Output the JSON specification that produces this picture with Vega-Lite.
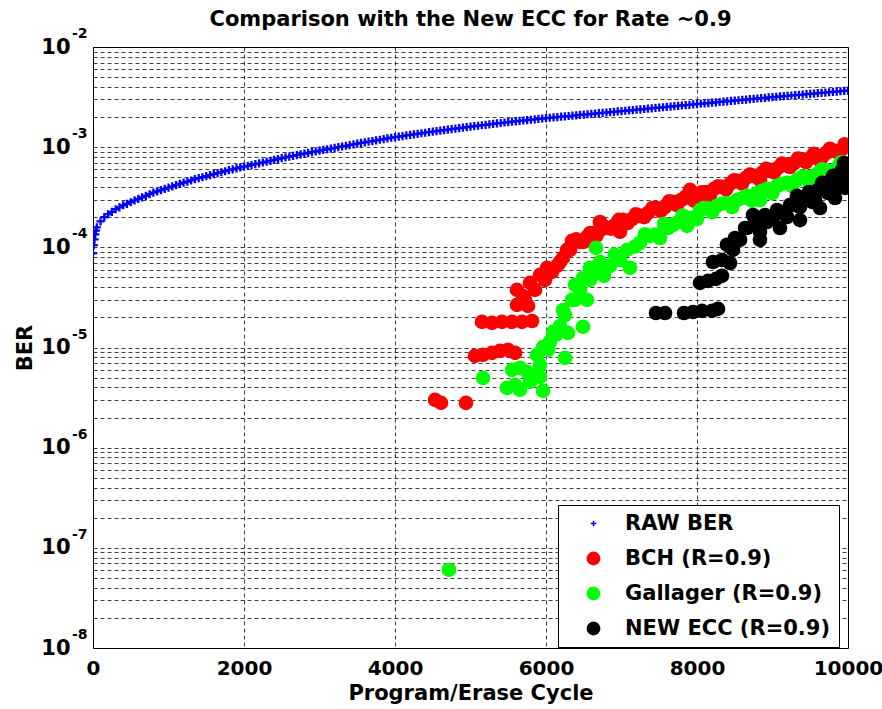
{
"$schema":"https://vega.github.io/schema/vega-lite/v6.json",
"width":755,"height":601,
"autosize":{"type":"none"},
"padding":{"left":93,"top":47,"right":34,"bottom":61},
"background":"white",
"title":{"text":"Comparison with the New ECC for Rate ~0.9","font":"DejaVu Sans","fontSize":21,"fontWeight":"bold","color":"black","anchor":"middle","baseline":"bottom","offset":4,"dy":28},
"config":{"view":{"stroke":"black","strokeWidth":1},"font":"DejaVu Sans"},
"datasets":{
"raw":[{"x":0,"y":8.7e-5},{"x":10,"y":1.05e-4},{"x":20,"y":1.2e-4},{"x":30,"y":1.35e-4},{"x":40,"y":1.47e-4},{"x":50,"y":1.585e-4},{"x":100,"y":1.82e-4},{"x":150,"y":2.0e-4},{"x":200,"y":2.14e-4},{"x":250,"y":2.26e-4},{"x":300,"y":2.40e-4},{"x":350,"y":2.51e-4},{"x":400,"y":2.63e-4},{"x":450,"y":2.72e-4},{"x":500,"y":2.82e-4},{"x":550,"y":2.94e-4},{"x":600,"y":3.05e-4},{"x":650,"y":3.16e-4},{"x":700,"y":3.27e-4},{"x":750,"y":3.39e-4},{"x":800,"y":3.51e-4},{"x":850,"y":3.61e-4},{"x":900,"y":3.72e-4},{"x":950,"y":3.83e-4},{"x":1000,"y":3.94e-4},{"x":1050,"y":4.06e-4},{"x":1100,"y":4.17e-4},{"x":1150,"y":4.30e-4},{"x":1200,"y":4.42e-4},{"x":1250,"y":4.53e-4},{"x":1300,"y":4.65e-4},{"x":1350,"y":4.79e-4},{"x":1400,"y":4.90e-4},{"x":1450,"y":5.01e-4},{"x":1500,"y":5.13e-4},{"x":1550,"y":5.25e-4},{"x":1600,"y":5.37e-4},{"x":1650,"y":5.50e-4},{"x":1700,"y":5.62e-4},{"x":1750,"y":5.75e-4},{"x":1800,"y":5.89e-4},{"x":1850,"y":6.01e-4},{"x":1900,"y":6.14e-4},{"x":1950,"y":6.27e-4},{"x":2000,"y":6.38e-4},{"x":2050,"y":6.52e-4},{"x":2100,"y":6.64e-4},{"x":2150,"y":6.76e-4},{"x":2200,"y":6.90e-4},{"x":2250,"y":7.03e-4},{"x":2300,"y":7.18e-4},{"x":2350,"y":7.31e-4},{"x":2400,"y":7.46e-4},{"x":2450,"y":7.60e-4},{"x":2500,"y":7.76e-4},{"x":2550,"y":7.91e-4},{"x":2600,"y":8.04e-4},{"x":2650,"y":8.18e-4},{"x":2700,"y":8.32e-4},{"x":2750,"y":8.47e-4},{"x":2800,"y":8.61e-4},{"x":2850,"y":8.77e-4},{"x":2900,"y":8.91e-4},{"x":2950,"y":9.08e-4},{"x":3000,"y":9.23e-4},{"x":3050,"y":9.38e-4},{"x":3100,"y":9.53e-4},{"x":3150,"y":9.68e-4},{"x":3200,"y":9.84e-4},{"x":3250,"y":1.0e-3},{"x":3300,"y":1.016e-3},{"x":3350,"y":1.033e-3},{"x":3400,"y":1.05e-3},{"x":3450,"y":1.067e-3},{"x":3500,"y":1.084e-3},{"x":3550,"y":1.102e-3},{"x":3600,"y":1.117e-3},{"x":3650,"y":1.135e-3},{"x":3700,"y":1.151e-3},{"x":3750,"y":1.169e-3},{"x":3800,"y":1.186e-3},{"x":3850,"y":1.205e-3},{"x":3900,"y":1.222e-3},{"x":3950,"y":1.242e-3},{"x":4000,"y":1.259e-3},{"x":4050,"y":1.276e-3},{"x":4100,"y":1.291e-3},{"x":4150,"y":1.309e-3},{"x":4200,"y":1.324e-3},{"x":4250,"y":1.343e-3},{"x":4300,"y":1.358e-3},{"x":4350,"y":1.377e-3},{"x":4400,"y":1.393e-3},{"x":4450,"y":1.413e-3},{"x":4500,"y":1.429e-3},{"x":4550,"y":1.445e-3},{"x":4600,"y":1.462e-3},{"x":4650,"y":1.479e-3},{"x":4700,"y":1.496e-3},{"x":4750,"y":1.514e-3},{"x":4800,"y":1.531e-3},{"x":4850,"y":1.549e-3},{"x":4900,"y":1.567e-3},{"x":4950,"y":1.585e-3},{"x":5000,"y":1.603e-3},{"x":5050,"y":1.622e-3},{"x":5100,"y":1.637e-3},{"x":5150,"y":1.656e-3},{"x":5200,"y":1.671e-3},{"x":5250,"y":1.69e-3},{"x":5300,"y":1.706e-3},{"x":5350,"y":1.726e-3},{"x":5400,"y":1.742e-3},{"x":5450,"y":1.762e-3},{"x":5500,"y":1.778e-3},{"x":5550,"y":1.795e-3},{"x":5600,"y":1.811e-3},{"x":5650,"y":1.828e-3},{"x":5700,"y":1.845e-3},{"x":5750,"y":1.862e-3},{"x":5800,"y":1.879e-3},{"x":5850,"y":1.897e-3},{"x":5900,"y":1.914e-3},{"x":5950,"y":1.932e-3},{"x":6000,"y":1.95e-3},{"x":6050,"y":1.966e-3},{"x":6100,"y":1.982e-3},{"x":6150,"y":1.998e-3},{"x":6200,"y":2.014e-3},{"x":6250,"y":2.03e-3},{"x":6300,"y":2.046e-3},{"x":6350,"y":2.063e-3},{"x":6400,"y":2.08e-3},{"x":6450,"y":2.097e-3},{"x":6500,"y":2.113e-3},{"x":6550,"y":2.131e-3},{"x":6600,"y":2.148e-3},{"x":6650,"y":2.165e-3},{"x":6700,"y":2.183e-3},{"x":6750,"y":2.2e-3},{"x":6800,"y":2.218e-3},{"x":6850,"y":2.236e-3},{"x":6900,"y":2.254e-3},{"x":6950,"y":2.273e-3},{"x":7000,"y":2.291e-3},{"x":7050,"y":2.309e-3},{"x":7100,"y":2.328e-3},{"x":7150,"y":2.347e-3},{"x":7200,"y":2.366e-3},{"x":7250,"y":2.385e-3},{"x":7300,"y":2.404e-3},{"x":7350,"y":2.424e-3},{"x":7400,"y":2.443e-3},{"x":7450,"y":2.463e-3},{"x":7500,"y":2.483e-3},{"x":7550,"y":2.503e-3},{"x":7600,"y":2.523e-3},{"x":7650,"y":2.544e-3},{"x":7700,"y":2.564e-3},{"x":7750,"y":2.585e-3},{"x":7800,"y":2.606e-3},{"x":7850,"y":2.627e-3},{"x":7900,"y":2.649e-3},{"x":7950,"y":2.67e-3},{"x":8000,"y":2.692e-3},{"x":8050,"y":2.713e-3},{"x":8100,"y":2.735e-3},{"x":8150,"y":2.757e-3},{"x":8200,"y":2.78e-3},{"x":8250,"y":2.802e-3},{"x":8300,"y":2.825e-3},{"x":8350,"y":2.848e-3},{"x":8400,"y":2.871e-3},{"x":8450,"y":2.894e-3},{"x":8500,"y":2.917e-3},{"x":8550,"y":2.941e-3},{"x":8600,"y":2.965e-3},{"x":8650,"y":2.989e-3},{"x":8700,"y":3.013e-3},{"x":8750,"y":3.037e-3},{"x":8800,"y":3.062e-3},{"x":8850,"y":3.087e-3},{"x":8900,"y":3.112e-3},{"x":8950,"y":3.137e-3},{"x":9000,"y":3.162e-3},{"x":9050,"y":3.186e-3},{"x":9100,"y":3.209e-3},{"x":9150,"y":3.233e-3},{"x":9200,"y":3.257e-3},{"x":9250,"y":3.281e-3},{"x":9300,"y":3.305e-3},{"x":9350,"y":3.33e-3},{"x":9400,"y":3.354e-3},{"x":9450,"y":3.379e-3},{"x":9500,"y":3.404e-3},{"x":9550,"y":3.43e-3},{"x":9600,"y":3.456e-3},{"x":9650,"y":3.482e-3},{"x":9700,"y":3.509e-3},{"x":9750,"y":3.535e-3},{"x":9800,"y":3.562e-3},{"x":9850,"y":3.589e-3},{"x":9900,"y":3.617e-3},{"x":9950,"y":3.644e-3},{"x":10000,"y":3.673e-3}],
"bch":[{"x":4530,"y":3.0e-6},{"x":4609,"y":2.8e-6},{"x":4940,"y":2.8e-6},{"x":5060,"y":8.24e-6},{"x":5166,"y":8.43e-6},{"x":5285,"y":8.83e-6},{"x":5391,"y":9.25e-6},{"x":5497,"y":9.46e-6},{"x":5590,"y":8.83e-6},{"x":5152,"y":1.8e-5},{"x":5285,"y":1.76e-5},{"x":5417,"y":1.8e-5},{"x":5550,"y":1.8e-5},{"x":5682,"y":1.8e-5},{"x":5815,"y":1.84e-5},{"x":5616,"y":2.66e-5},{"x":5762,"y":2.6e-5},{"x":5616,"y":3.76e-5},{"x":5695,"y":3.27e-5},{"x":5722,"y":2.99e-5},{"x":5854,"y":3.76e-5},{"x":5987,"y":4.73e-5},{"x":6080,"y":5.69e-5},{"x":6185,"y":7.14e-5},{"x":6318,"y":9.42e-5},{"x":5788,"y":4.42e-5},{"x":5921,"y":5.31e-5},{"x":6013,"y":6.24e-5},{"x":6146,"y":6.53e-5},{"x":6225,"y":7.85e-5},{"x":6278,"y":9.42e-5},{"x":6344,"y":1.16e-4},{"x":6400,"y":1.2e-4},{"x":6450,"y":1.13e-4},{"x":6500,"y":1.135e-4},{"x":6543,"y":1.27e-4},{"x":6585,"y":1.39e-4},{"x":6623,"y":1.39e-4},{"x":6670,"y":1.31e-4},{"x":6715,"y":1.49e-4},{"x":6715,"y":1.79e-4},{"x":6760,"y":1.63e-4},{"x":6808,"y":1.56e-4},{"x":6860,"y":1.54e-4},{"x":6914,"y":1.67e-4},{"x":6965,"y":1.88e-4},{"x":6980,"y":1.43e-4},{"x":7020,"y":1.88e-4},{"x":7080,"y":1.75e-4},{"x":7139,"y":1.92e-4},{"x":7190,"y":2.14e-4},{"x":7245,"y":2.06e-4},{"x":7300,"y":2.0e-4},{"x":7351,"y":2.21e-4},{"x":7410,"y":2.47e-4},{"x":7470,"y":2.47e-4},{"x":7520,"y":2.32e-4},{"x":7576,"y":2.53e-4},{"x":7630,"y":2.88e-4},{"x":7682,"y":2.84e-4},{"x":7735,"y":2.64e-4},{"x":7788,"y":2.97e-4},{"x":7850,"y":3.2e-4},{"x":7907,"y":3.11e-4},{"x":7907,"y":3.74e-4},{"x":7960,"y":2.93e-4},{"x":8013,"y":3.41e-4},{"x":8040,"y":2.84e-4},{"x":8065,"y":3.55e-4},{"x":8119,"y":3.57e-4},{"x":8170,"y":3.3e-4},{"x":8225,"y":3.83e-4},{"x":8280,"y":4.07e-4},{"x":8331,"y":4.01e-4},{"x":8385,"y":3.79e-4},{"x":8437,"y":4.3e-4},{"x":8490,"y":4.66e-4},{"x":8543,"y":4.6e-4},{"x":8595,"y":4.34e-4},{"x":8649,"y":4.93e-4},{"x":8700,"y":5.32e-4},{"x":8755,"y":5.16e-4},{"x":8810,"y":4.97e-4},{"x":8834,"y":4.71e-4},{"x":8861,"y":5.53e-4},{"x":8915,"y":6.07e-4},{"x":8967,"y":5.93e-4},{"x":9020,"y":5.61e-4},{"x":9073,"y":6.21e-4},{"x":9125,"y":6.84e-4},{"x":9179,"y":6.64e-4},{"x":9230,"y":6.34e-4},{"x":9285,"y":6.95e-4},{"x":9340,"y":7.7e-4},{"x":9391,"y":7.45e-4},{"x":9445,"y":7.08e-4},{"x":9497,"y":7.8e-4},{"x":9550,"y":8.59e-4},{"x":9603,"y":8.17e-4},{"x":9629,"y":7.45e-4},{"x":9655,"y":7.91e-4},{"x":9708,"y":8.75e-4},{"x":9760,"y":9.64e-4},{"x":9814,"y":9.16e-4},{"x":9865,"y":8.89e-4},{"x":9920,"y":9.59e-4},{"x":9955,"y":1.07e-3},{"x":9987,"y":1.03e-3}],
"gal":[{"x":4715,"y":6.04e-8},{"x":5166,"y":4.98e-6},{"x":5483,"y":3.95e-6},{"x":5590,"y":4.24e-6},{"x":5656,"y":3.78e-6},{"x":5788,"y":4.54e-6},{"x":5960,"y":3.69e-6},{"x":5550,"y":5.98e-6},{"x":5656,"y":6.27e-6},{"x":5748,"y":5.71e-6},{"x":5921,"y":5.09e-6},{"x":5788,"y":5.33e-6},{"x":5921,"y":6.7e-6},{"x":6026,"y":9.46e-6},{"x":6132,"y":1.34e-5},{"x":6252,"y":2.11e-5},{"x":6384,"y":2.99e-5},{"x":6583,"y":4.73e-5},{"x":6715,"y":7.14e-5},{"x":5881,"y":8.43e-6},{"x":5960,"y":1.01e-5},{"x":6053,"y":1.14e-5},{"x":6252,"y":7.87e-6},{"x":6093,"y":1.43e-5},{"x":6185,"y":1.64e-5},{"x":6291,"y":1.4e-5},{"x":6490,"y":1.61e-5},{"x":6225,"y":2.37e-5},{"x":6344,"y":2.99e-5},{"x":6450,"y":3.76e-5},{"x":6543,"y":2.99e-5},{"x":6384,"y":4.22e-5},{"x":6490,"y":4.95e-5},{"x":6675,"y":5.69e-5},{"x":6583,"y":6.24e-5},{"x":6662,"y":9.87e-5},{"x":6768,"y":5.19e-5},{"x":6848,"y":6.53e-5},{"x":6910,"y":8.47e-5},{"x":6980,"y":7.48e-5},{"x":7112,"y":6.24e-5},{"x":7073,"y":9.42e-5},{"x":7180,"y":1.02e-4},{"x":7245,"y":1.11e-4},{"x":7310,"y":1.35e-4},{"x":7378,"y":1.3e-4},{"x":7445,"y":1.34e-4},{"x":7510,"y":1.24e-4},{"x":7565,"y":1.72e-4},{"x":7616,"y":1.56e-4},{"x":7680,"y":1.67e-4},{"x":7748,"y":1.79e-4},{"x":7810,"y":2.08e-4},{"x":7867,"y":1.64e-4},{"x":7935,"y":1.97e-4},{"x":8000,"y":1.92e-4},{"x":8040,"y":2.36e-4},{"x":8085,"y":2.46e-4},{"x":8132,"y":2.47e-4},{"x":8200,"y":2.25e-4},{"x":8265,"y":2.59e-4},{"x":8330,"y":2.74e-4},{"x":8397,"y":2.77e-4},{"x":8465,"y":2.53e-4},{"x":8530,"y":2.97e-4},{"x":8595,"y":3.09e-4},{"x":8662,"y":3.26e-4},{"x":8730,"y":2.93e-4},{"x":8795,"y":3.49e-4},{"x":8834,"y":2.97e-4},{"x":8860,"y":3.66e-4},{"x":8927,"y":3.83e-4},{"x":8995,"y":3.47e-4},{"x":9060,"y":4.1e-4},{"x":9125,"y":4.31e-4},{"x":9192,"y":4.4e-4},{"x":9260,"y":4.08e-4},{"x":9324,"y":4.71e-4},{"x":9390,"y":5.07e-4},{"x":9457,"y":5.05e-4},{"x":9497,"y":4.2e-4},{"x":9520,"y":4.8e-4},{"x":9589,"y":5.41e-4},{"x":9655,"y":6.01e-4},{"x":9722,"y":5.79e-4},{"x":9790,"y":5.71e-4},{"x":9854,"y":6.19e-4},{"x":9905,"y":7.06e-4},{"x":9960,"y":6.79e-4}],
"ecc":[{"x":7457,"y":2.21e-5},{"x":7576,"y":2.21e-5},{"x":7828,"y":2.21e-5},{"x":7947,"y":2.26e-5},{"x":8066,"y":2.32e-5},{"x":8199,"y":2.32e-5},{"x":8278,"y":2.43e-5},{"x":8040,"y":4.42e-5},{"x":8146,"y":4.62e-5},{"x":8252,"y":4.84e-5},{"x":8331,"y":5.19e-5},{"x":8212,"y":7.14e-5},{"x":8331,"y":7.48e-5},{"x":8437,"y":6.98e-5},{"x":8397,"y":1.06e-4},{"x":8477,"y":9.42e-5},{"x":8503,"y":1.24e-4},{"x":8570,"y":1.19e-4},{"x":8636,"y":1.56e-4},{"x":8662,"y":1.56e-4},{"x":8742,"y":2.1e-4},{"x":8795,"y":1.67e-4},{"x":8834,"y":1.43e-4},{"x":8834,"y":1.19e-4},{"x":8901,"y":2.1e-4},{"x":8927,"y":1.79e-4},{"x":9007,"y":1.96e-4},{"x":9060,"y":2.36e-4},{"x":9099,"y":2.25e-4},{"x":9099,"y":1.56e-4},{"x":9192,"y":2.01e-4},{"x":9232,"y":2.65e-4},{"x":9272,"y":2.65e-4},{"x":9324,"y":3.26e-4},{"x":9364,"y":2.53e-4},{"x":9364,"y":1.87e-4},{"x":9444,"y":3.11e-4},{"x":9483,"y":3.57e-4},{"x":9523,"y":2.84e-4},{"x":9563,"y":2.97e-4},{"x":9603,"y":3.74e-4},{"x":9629,"y":2.47e-4},{"x":9656,"y":4.4e-4},{"x":9682,"y":4.1e-4},{"x":9735,"y":3.49e-4},{"x":9762,"y":4.6e-4},{"x":9801,"y":5.16e-4},{"x":9828,"y":3.74e-4},{"x":9828,"y":3.11e-4},{"x":9841,"y":5.16e-4},{"x":9867,"y":4.2e-4},{"x":9894,"y":4.5e-4},{"x":9920,"y":5.92e-4},{"x":9947,"y":6.95e-4},{"x":9960,"y":3.92e-4},{"x":9973,"y":6.49e-4},{"x":9973,"y":4.93e-4}],
"exps":[{"x":0,"y":1e-2,"e":"-2"},{"x":0,"y":1e-3,"e":"-3"},{"x":0,"y":1e-4,"e":"-4"},{"x":0,"y":1e-5,"e":"-5"},{"x":0,"y":1e-6,"e":"-6"},{"x":0,"y":1e-7,"e":"-7"},{"x":0,"y":1e-8,"e":"-8"}]
},
"encoding":{
"x":{"field":"x","type":"quantitative","scale":{"domain":[0,10000],"nice":false,"zero":false},
 "axis":{"values":[0,2000,4000,6000,8000,10000],"format":"d","title":"Program/Erase Cycle","titleFont":"DejaVu Sans","titleFontSize":21,"titleFontWeight":"bold","titleColor":"black","titlePadding":4,"labelFont":"DejaVu Sans","labelFontSize":20,"labelFontWeight":"bold","labelColor":"black","labelPadding":10,"ticks":false,"domain":false,"grid":true,"gridColor":"#000000","gridOpacity":0.75,"gridDash":[4,3],"gridWidth":1,"labelOverlap":false,"labelFlush":false}},
"y":{"field":"y","type":"quantitative","scale":{"type":"log","domain":[1e-8,1e-2],"nice":false},
 "axis":{"values":[1e-8,2e-8,3e-8,4e-8,5e-8,6e-8,7e-8,8e-8,9e-8,1e-7,2e-7,3e-7,4e-7,5e-7,6e-7,7e-7,8e-7,9e-7,1e-6,2e-6,3e-6,4e-6,5e-6,6e-6,7e-6,8e-6,9e-6,1e-5,2e-5,3e-5,4e-5,5e-5,6e-5,7e-5,8e-5,9e-5,1e-4,2e-4,3e-4,4e-4,5e-4,6e-4,7e-4,8e-4,9e-4,1e-3,2e-3,3e-3,4e-3,5e-3,6e-3,7e-3,8e-3,9e-3,1e-2],
 "labelExpr":"abs(log(datum.value)/LN10 - round(log(datum.value)/LN10)) < 0.01 ? '10' : ''",
 "title":"BER","titleFont":"DejaVu Sans","titleFontSize":21,"titleFontWeight":"bold","titleColor":"black","titlePadding":5,"labelFont":"DejaVu Sans","labelFontSize":21,"labelFontWeight":"bold","labelColor":"black","labelPadding":23,"ticks":false,"domain":false,"grid":true,"gridColor":"#000000","gridOpacity":0.75,"gridDash":[4,3],"gridWidth":1,"labelOverlap":false,"labelFlush":false}}
},
"layer":[
{"data":{"name":"raw"},"mark":{"type":"point","filled":true,"size":420,"opacity":1,"clip":true},
 "encoding":{
  "color":{"datum":"RAW BER","type":"nominal","scale":{"domain":["RAW BER","BCH (R=0.9)","Gallager (R=0.9)","NEW ECC (R=0.9)"],"range":["#0000ff","#ff0000","#00ff00","#000000"]},
   "legend":{"title":null,"orient":"none","legendX":465,"legendY":458,"strokeColor":"black","fillColor":"white","padding":8,"symbolOffset":17,"labelOffset":21,"rowPadding":13,"symbolSize":190,"symbolStrokeWidth":0,"labelFont":"DejaVu Sans","labelFontSize":21,"labelFontWeight":"bold","labelColor":"black","labelLimit":400}},
  "shape":{"datum":"RAW BER","type":"nominal","scale":{"domain":["RAW BER","BCH (R=0.9)","Gallager (R=0.9)","NEW ECC (R=0.9)"],"range":["M-0.4,-0.11H-0.11V-0.4H0.11V-0.11H0.4V0.11H0.11V0.4H-0.11V0.11H-0.4Z","circle","circle","circle"]},
   "legend":{"title":null,"orient":"none","legendX":465,"legendY":458,"strokeColor":"black","fillColor":"white","padding":8,"symbolOffset":17,"labelOffset":21,"rowPadding":13,"symbolSize":190,"symbolStrokeWidth":0,"labelFont":"DejaVu Sans","labelFontSize":21,"labelFontWeight":"bold","labelColor":"black","labelLimit":400}}}},
{"data":{"name":"bch"},"mark":{"type":"point","filled":true,"size":215,"opacity":1,"clip":true},
 "encoding":{"color":{"datum":"BCH (R=0.9)","type":"nominal"},"shape":{"datum":"BCH (R=0.9)","type":"nominal"}}},
{"data":{"name":"gal"},"mark":{"type":"point","filled":true,"size":215,"opacity":1,"clip":true},
 "encoding":{"color":{"datum":"Gallager (R=0.9)","type":"nominal"},"shape":{"datum":"Gallager (R=0.9)","type":"nominal"}}},
{"data":{"name":"ecc"},"mark":{"type":"point","filled":true,"size":215,"opacity":1,"clip":true},
 "encoding":{"color":{"datum":"NEW ECC (R=0.9)","type":"nominal"},"shape":{"datum":"NEW ECC (R=0.9)","type":"nominal"}}},
{"data":{"name":"exps"},"mark":{"type":"text","align":"left","baseline":"middle","dx":-21,"dy":-13,"font":"DejaVu Sans","fontSize":14,"fontWeight":"bold","color":"black"},
 "encoding":{"text":{"field":"e","type":"nominal"}}}
]
}
